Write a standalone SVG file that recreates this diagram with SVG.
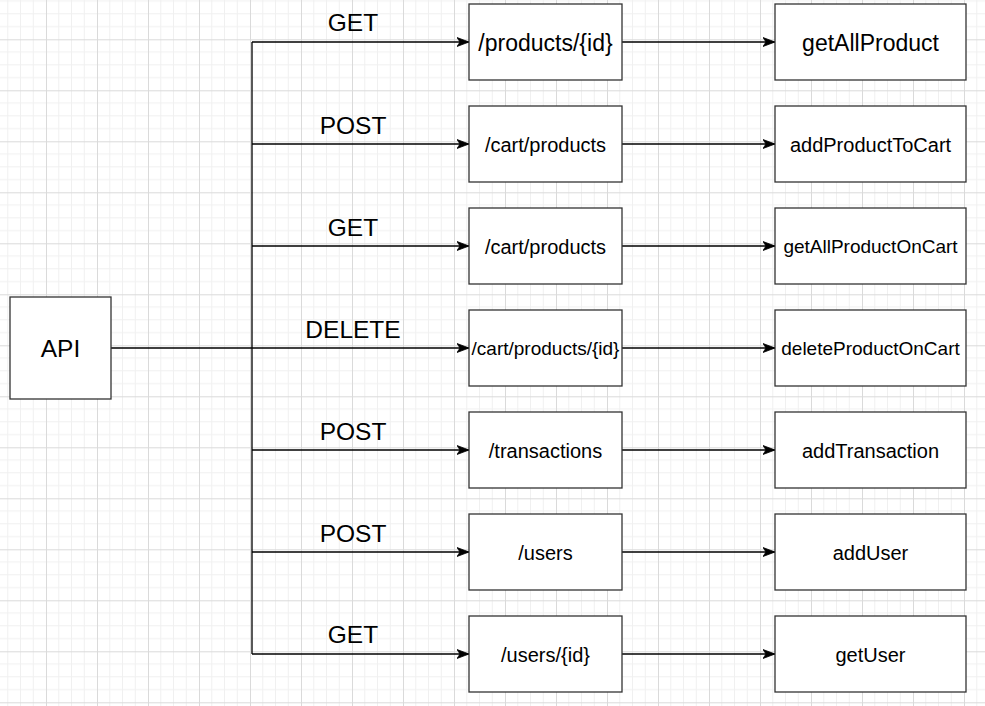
<svg xmlns="http://www.w3.org/2000/svg" width="985" height="706" viewBox="0 0 985 706">
<defs>
<pattern id="grid" x="-5" y="-11.7" width="51" height="51" patternUnits="userSpaceOnUse">
<path d="M12.75 0V51M25.5 0V51M38.25 0V51M0 12.75H51M0 25.5H51M0 38.25H51" stroke="#f0f0f0" stroke-width="1" fill="none"/>
<path d="M0.5 0V51M0 0.5H51" stroke="#dadada" stroke-width="1" fill="none"/>
</pattern>
<marker id="arr" markerUnits="userSpaceOnUse" markerWidth="14" markerHeight="12" refX="12" refY="5" orient="auto" viewBox="0 0 14 12">
<path d="M0,0.5 L12,5 L0,9.5 L3,5 Z" fill="#000" stroke="#000" stroke-width="0.8"/>
</marker>
<style>
.box{fill:#fff;stroke:#333;stroke-width:1.3}
.t{font-family:"Liberation Sans",Arial,sans-serif;fill:#000;text-anchor:middle}
.ln{fill:none;stroke:#000;stroke-width:1.3}
</style>
</defs>
<rect width="985" height="706" fill="#fff"/>
<rect width="985" height="706" fill="url(#grid)"/>
<g id="connectors">
<path class="ln" d="M111 348H252M252 42V654"/>
<path class="ln" d="M252 42H469" marker-end="url(#arr)"/>
<path class="ln" d="M252 144H469" marker-end="url(#arr)"/>
<path class="ln" d="M252 246H469" marker-end="url(#arr)"/>
<path class="ln" d="M252 348H469" marker-end="url(#arr)"/>
<path class="ln" d="M252 450H469" marker-end="url(#arr)"/>
<path class="ln" d="M252 552H469" marker-end="url(#arr)"/>
<path class="ln" d="M252 654H469" marker-end="url(#arr)"/>
<path class="ln" d="M622 42H775" marker-end="url(#arr)"/>
<path class="ln" d="M622 144H775" marker-end="url(#arr)"/>
<path class="ln" d="M622 246H775" marker-end="url(#arr)"/>
<path class="ln" d="M622 348H775" marker-end="url(#arr)"/>
<path class="ln" d="M622 450H775" marker-end="url(#arr)"/>
<path class="ln" d="M622 552H775" marker-end="url(#arr)"/>
<path class="ln" d="M622 654H775" marker-end="url(#arr)"/>
<g font-size="24.5">
<text class="t" x="353" y="31">GET</text>
<text class="t" x="353" y="134">POST</text>
<text class="t" x="353" y="236">GET</text>
<text class="t" x="353" y="338">DELETE</text>
<text class="t" x="353" y="440">POST</text>
<text class="t" x="353" y="542">POST</text>
<text class="t" x="353" y="643">GET</text>
</g>
</g>
<g id="api"><rect class="box" x="10" y="297" width="101" height="102"/><text class="t" x="60.5" y="357" font-size="24.5">API</text></g>
<g id="ep1"><rect class="box" x="469" y="4" width="153" height="76"/><text class="t" x="545.5" y="50.5" font-size="23">/products/{id}</text></g>
<g id="ep2"><rect class="box" x="469" y="106" width="153" height="76"/><text class="t" x="545.5" y="151.5" font-size="20">/cart/products</text></g>
<g id="ep3"><rect class="box" x="469" y="208" width="153" height="76"/><text class="t" x="545.5" y="253.5" font-size="20">/cart/products</text></g>
<g id="ep4"><rect class="box" x="469" y="310" width="153" height="76"/><text class="t" x="545.5" y="355" font-size="19">/cart/products/{id}</text></g>
<g id="ep5"><rect class="box" x="469" y="412" width="153" height="76"/><text class="t" x="545.5" y="457.5" font-size="20">/transactions</text></g>
<g id="ep6"><rect class="box" x="469" y="514" width="153" height="76"/><text class="t" x="545.5" y="559.5" font-size="20">/users</text></g>
<g id="ep7"><rect class="box" x="469" y="616" width="153" height="76"/><text class="t" x="545.5" y="661.5" font-size="20">/users/{id}</text></g>
<g id="fn1"><rect class="box" x="775" y="4" width="191" height="76"/><text class="t" x="870.5" y="50.5" font-size="23">getAllProduct</text></g>
<g id="fn2"><rect class="box" x="775" y="106" width="191" height="76"/><text class="t" x="870.5" y="151.5" font-size="20">addProductToCart</text></g>
<g id="fn3"><rect class="box" x="775" y="208" width="191" height="76"/><text class="t" x="870.5" y="253" font-size="19">getAllProductOnCart</text></g>
<g id="fn4"><rect class="box" x="775" y="310" width="191" height="76"/><text class="t" x="870.5" y="355" font-size="19">deleteProductOnCart</text></g>
<g id="fn5"><rect class="box" x="775" y="412" width="191" height="76"/><text class="t" x="870.5" y="457.5" font-size="20">addTransaction</text></g>
<g id="fn6"><rect class="box" x="775" y="514" width="191" height="76"/><text class="t" x="870.5" y="559.5" font-size="20">addUser</text></g>
<g id="fn7"><rect class="box" x="775" y="616" width="191" height="76"/><text class="t" x="870.5" y="661.5" font-size="20">getUser</text></g>
</svg>
